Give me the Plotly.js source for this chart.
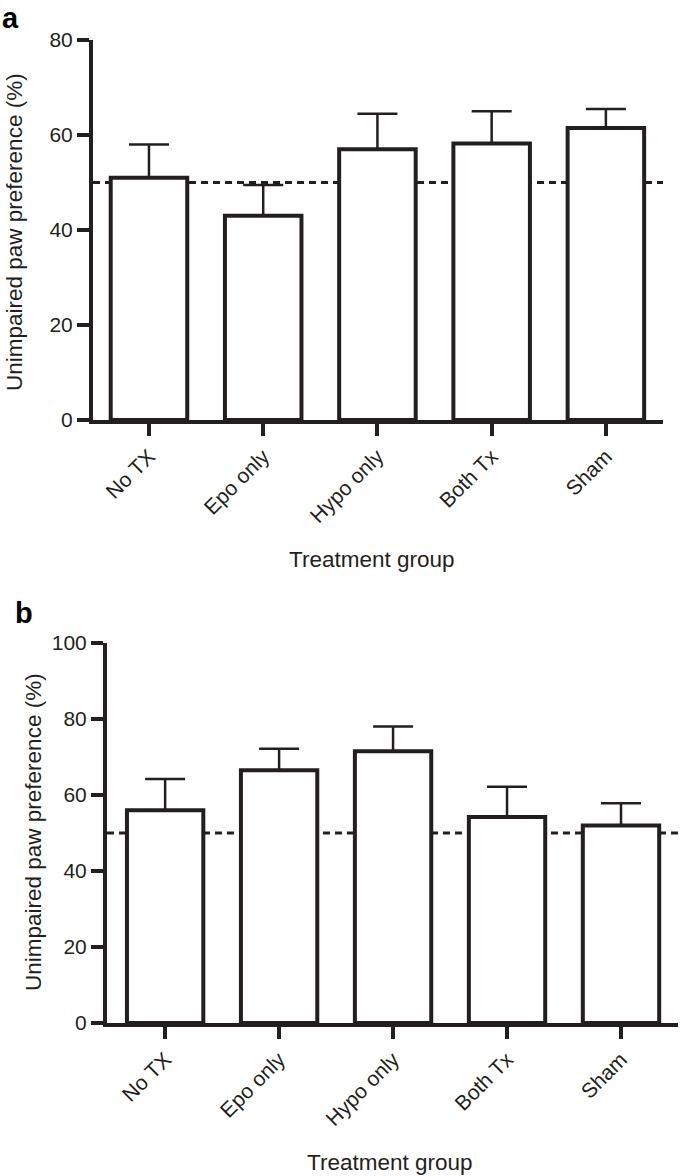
<!DOCTYPE html>
<html>
<head>
<meta charset="utf-8">
<script src="https://cdn.plot.ly/plotly-3.0.1.min.js"></script>
<style>html,body{margin:0;padding:0;background:#fff;}</style>
</head>
<body>
<div id="chart" style="width:685px;height:1176px;"></div>
<script>
const groups = ["No TX", "Epo only", "Hypo only", "Both Tx", "Sham"];
const meansA = [51, 43, 57, 58.2, 61.5];
const upperA = [58, 49.5, 64.5, 65, 65.5];
const meansB = [56, 66.5, 71.5, 54.2, 52];
const upperB = [64.2, 72.2, 78, 62.2, 57.8];
const chanceLevel = 50;
const yTitle = "Unimpaired paw preference (%)";
const xTitle = "Treatment group";

const INK = "#231f20";
const FONT = "Liberation Sans, Arial, Helvetica, sans-serif";
const W = 685, H = 1176;

function diff(up, m) { return up.map((u, i) => u - m[i]); }

function barTrace(means, upper, xa, ya) {
  return {
    type: "bar", x: groups, y: means, xaxis: xa, yaxis: ya,
    width: 0.67,
    marker: { color: "#ffffff", line: { color: INK, width: 4 } },
    error_y: { type: "data", symmetric: false, array: diff(upper, means),
               arrayminus: means.map(() => 0), color: INK, thickness: 2.5, width: 20 },
    showlegend: false, hoverinfo: "x+y"
  };
}

const data = [barTrace(meansA, upperA, "x", "y"), barTrace(meansB, upperB, "x2", "y2")];

function px(a, b) { return [a / W, b / W]; }
function py(top, bottom) { return [1 - bottom / H, 1 - top / H]; }

const axCommon = {
  showline: true, linecolor: INK, linewidth: 4, showgrid: false, zeroline: false,
  ticks: "outside", ticklen: 12, tickwidth: 4, tickcolor: INK,
  tickfont: { family: FONT, size: 21, color: INK }, fixedrange: true
};
const xTickFont = { family: FONT, size: 21, color: INK };

const layout = {
  width: W, height: H,
  margin: { l: 0, r: 0, t: 0, b: 0 },
  paper_bgcolor: "#fff", plot_bgcolor: "rgba(0,0,0,0)",
  font: { family: FONT, color: INK },
  xaxis: Object.assign({}, axCommon, { domain: px(93, 663), range: [-0.49, 4.5], anchor: "y",
          type: "category", tickangle: -45, tickfont: xTickFont }),
  yaxis: Object.assign({}, axCommon, { domain: py(40, 420), range: [0, 80], dtick: 20, anchor: "x" }),
  xaxis2: Object.assign({}, axCommon, { domain: px(107, 678), range: [-0.51, 4.5], anchor: "y2",
          type: "category", tickangle: -45, tickfont: xTickFont }),
  yaxis2: Object.assign({}, axCommon, { domain: py(643, 1023), range: [0, 100], dtick: 20, anchor: "x2" }),
  shapes: [
    { type: "line", layer: "below", xref: "x domain", yref: "y", x0: 0, x1: 1, y0: chanceLevel, y1: chanceLevel,
      line: { color: INK, width: 3, dash: "7px,5px" } },
    { type: "line", layer: "below", xref: "x2 domain", yref: "y2", x0: 0, x1: 1, y0: chanceLevel, y1: chanceLevel,
      line: { color: INK, width: 3, dash: "7px,5px" } }
  ],
  annotations: [
    { text: "<b>a</b>", xref: "paper", yref: "paper", x: 0, y: 1 - 18 / H, xanchor: "left", yanchor: "middle",
      showarrow: false, font: { family: FONT, size: 29, color: "#000" } },
    { text: "<b>b</b>", xref: "paper", yref: "paper", x: 13 / W, y: 1 - 613 / H, xanchor: "left", yanchor: "middle",
      showarrow: false, font: { family: FONT, size: 29, color: "#000" } },
    { text: yTitle, xref: "paper", yref: "paper", x: 14 / W, y: 1 - 232 / H, textangle: -90,
      xanchor: "center", yanchor: "middle", showarrow: false, font: { family: FONT, size: 22.5, color: INK } },
    { text: yTitle, xref: "paper", yref: "paper", x: 33 / W, y: 1 - 832 / H, textangle: -90,
      xanchor: "center", yanchor: "middle", showarrow: false, font: { family: FONT, size: 22.5, color: INK } },
    { text: xTitle, xref: "paper", yref: "paper", x: 372 / W, y: 1 - 559 / H,
      xanchor: "center", yanchor: "middle", showarrow: false, font: { family: FONT, size: 22.5, color: INK } },
    { text: xTitle, xref: "paper", yref: "paper", x: 390 / W, y: 1 - 1162 / H,
      xanchor: "center", yanchor: "middle", showarrow: false, font: { family: FONT, size: 22.5, color: INK } }
  ]
};

Plotly.newPlot("chart", data, layout, { displayModeBar: false, staticPlot: true });
</script>
</body>
</html>
